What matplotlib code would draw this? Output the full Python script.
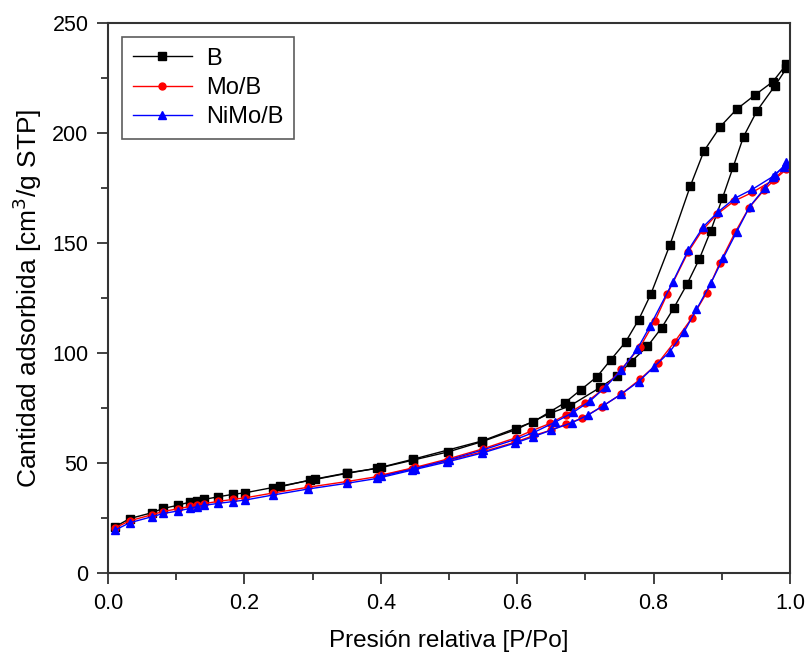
import matplotlib
matplotlib.use("Agg")
import matplotlib.pyplot as plt
from matplotlib.ticker import MultipleLocator

plt.rcParams['font.family'] = ['Liberation Sans', 'DejaVu Sans']

# B - adsorcion / desorcion
b_ads_x = [.010, .032, .064, .081, .102, .120, .130, .141, .162, .183, .201, .252, .304, .350,
           .401, .448, .499, .548, .599, .648, .677, .722, .746, .767, .791, .812, .830, .849,
           .867, .884, .901, .917, .932, .952, .978, .995]
b_ads_y = [21.0, 24.8, 27.4, 29.4, 30.8, 32.3, 32.9, 33.5, 34.7, 35.8, 36.5, 39.5, 42.6, 45.3,
           48.0, 51.4, 55.1, 59.7, 65.3, 72.6, 75.9, 84.4, 89.5, 96.0, 103.0, 111.5, 120.6, 131.2,
           142.6, 155.6, 170.3, 184.7, 198.3, 210.2, 221.4, 229.4]
b_des_x = [.995, .975, .949, .922, .898, .874, .854, .824, .796, .778, .759, .737, .717, .693,
           .670, .624, .548, .448, .394, .350, .296, .242]
b_des_y = [231.2, 223.3, 217.3, 210.8, 202.9, 191.8, 175.9, 149.1, 126.7, 115.0, 105.0, 96.8,
           89.2, 83.2, 77.4, 68.8, 60.0, 51.8, 47.6, 45.5, 42.3, 38.5]

# Mo/B
mo_ads_x = [.010, .032, .064, .081, .102, .120, .130, .141, .162, .183, .201, .242, .293, .350,
            .394, .446, .497, .548, .597, .624, .650, .672, .695, .724, .753, .780, .807, .831,
            .856, .878, .897, .920, .940, .962, .978, .995]
mo_ads_y = [20.5, 23.8, 26.5, 28.0, 29.2, 30.3, 31.0, 31.6, 32.6, 33.5, 34.2, 36.4, 39.0, 41.6,
            43.8, 47.5, 51.0, 55.0, 59.5, 62.5, 65.0, 67.8, 70.3, 75.6, 81.4, 88.0, 95.6, 105.1,
            115.8, 127.4, 140.8, 155.0, 166.0, 174.0, 179.0, 183.5]
mo_des_x = [.995, .975, .945, .918, .893, .872, .851, .820, .802, .780, .753, .726, .699, .672,
            .648, .620, .598, .550, .500, .450, .400]
mo_des_y = [184.5, 178.5, 173.0, 169.0, 163.0, 156.0, 146.0, 126.7, 114.5, 102.6, 92.7, 83.5,
            77.1, 72.0, 68.0, 64.5, 61.5, 56.5, 52.0, 48.0, 44.5]

# NiMo/B
ni_ads_x = [.010, .032, .064, .081, .102, .120, .130, .141, .162, .183, .201, .242, .293, .350,
            .394, .446, .497, .548, .597, .624, .650, .680, .704, .728, .753, .778, .800, .824,
            .845, .863, .884, .902, .922, .941, .963, .978, .995]
ni_ads_y = [19.5, 22.9, 25.6, 27.1, 28.2, 29.4, 30.2, 30.8, 31.7, 32.5, 33.2, 35.5, 38.2, 40.8,
            43.0, 46.8, 50.5, 54.5, 59.1, 62.0, 65.0, 68.3, 71.8, 76.4, 81.4, 87.0, 93.5, 100.6,
            109.7, 119.8, 131.7, 143.0, 155.1, 166.5, 174.9, 180.9, 186.0]
ni_des_x = [.995, .991, .975, .945, .919, .895, .873, .851, .828, .795, .776, .753, .730, .707,
            .682, .655, .625, .600, .550, .500, .450, .400]
ni_des_y = [187.0, 184.7, 180.2, 174.4, 170.3, 164.2, 157.4, 146.8, 132.1, 112.3, 101.7, 92.3,
            84.7, 78.2, 73.0, 68.5, 64.0, 61.0, 56.0, 51.5, 47.5, 44.0]

fig = plt.figure(figsize=(8.06, 6.55), dpi=100)
ax = fig.add_axes([0.134, 0.125, 0.846, 0.840])

ax.plot(b_ads_x, b_ads_y, '-s', color='black', lw=1, ms=6, label='B')
ax.plot(b_des_x, b_des_y, '-s', color='black', lw=1, ms=6)
ax.plot(mo_ads_x, mo_ads_y, '-o', color='red', lw=1, ms=5, label='Mo/B')
ax.plot(mo_des_x, mo_des_y, '-o', color='red', lw=1, ms=5)
ax.plot(ni_ads_x, ni_ads_y, '-^', color='blue', lw=1, ms=6, label='NiMo/B')
ax.plot(ni_des_x, ni_des_y, '-^', color='blue', lw=1, ms=6)

ax.set_xlim(0, 1.0)
ax.set_ylim(0, 250)
ax.xaxis.set_major_locator(MultipleLocator(0.2))
ax.xaxis.set_minor_locator(MultipleLocator(0.1))
ax.yaxis.set_major_locator(MultipleLocator(50))
ax.yaxis.set_minor_locator(MultipleLocator(25))
ax.xaxis.set_major_formatter(plt.FuncFormatter(lambda v, p: '%.1f' % v))

for s in ax.spines.values():
    s.set_linewidth(1.5)
    s.set_color('#333333')
ax.tick_params(which='both', direction='out', top=False, right=False,
               labelsize=15.5, width=1.3, color='#333333')
ax.tick_params(which='major', length=8, pad=6)
ax.tick_params(which='minor', length=5)

ax.set_xlabel('Presión relativa [P/Po]', fontsize=17.5, labelpad=12)
ax.set_ylabel('Cantidad adsorbida [cm$^3$/g STP]', fontsize=19, labelpad=6)

leg = ax.legend(loc='upper left', fontsize=17, frameon=True, fancybox=False,
                borderaxespad=0.6, handlelength=2.5, labelspacing=0.3,
                borderpad=0.45, handletextpad=0.6)
leg.get_frame().set_edgecolor('#333333')
leg.get_frame().set_linewidth(1.2)

fig.savefig('out.png', dpi=100)
